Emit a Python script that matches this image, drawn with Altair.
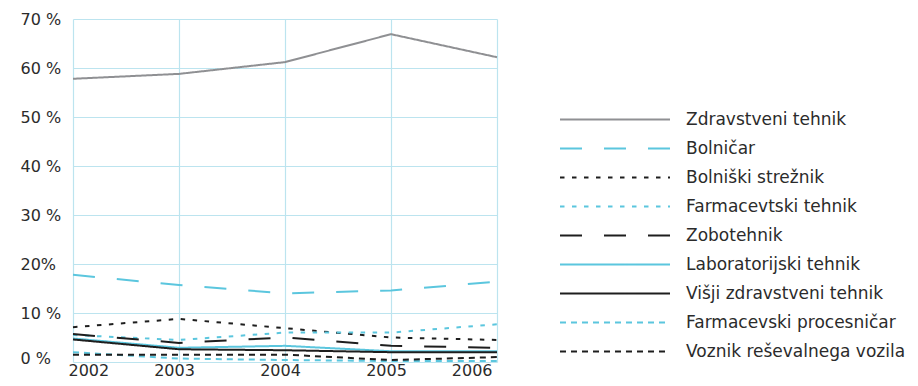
import altair as alt
import pandas as pd

years = [2002, 2003, 2004, 2005, 2006]

series = [
    "Zdravstveni tehnik",
    "Bolničar",
    "Bolniški strežnik",
    "Farmacevtski tehnik",
    "Zobotehnik",
    "Laboratorijski tehnik",
    "Višji zdravstveni tehnik",
    "Farmacevski procesničar",
    "Voznik reševalnega vozila",
]

zdravstveni_tehnik = [57.8, 58.8, 61.2, 66.9, 62.2]
bolnicar = [17.8, 15.7, 14.0, 14.6, 16.4]
bolniski_streznik = [7.1, 8.8, 6.9, 5.0, 4.5]
farmacevtski_tehnik = [5.5, 4.5, 6.0, 6.0, 7.7]
zobotehnik = [5.7, 3.9, 5.0, 3.3, 2.9]
laboratorijski_tehnik = [4.8, 2.9, 3.3, 2.2, 2.2]
visji_zdravstveni_tehnik = [4.6, 2.6, 2.4, 2.0, 2.0]
farmacevski_procesnicar = [2.0, 0.7, 0.4, 0.2, 0.2]
voznik = [1.5, 1.5, 1.5, 0.4, 1.0]

all_values = [
    zdravstveni_tehnik, bolnicar, bolniski_streznik, farmacevtski_tehnik,
    zobotehnik, laboratorijski_tehnik, visji_zdravstveni_tehnik,
    farmacevski_procesnicar, voznik,
]

y_ticks = [0, 10, 20, 30, 40, 50, 60, 70]

GRAY = "#8f9093"
BLUE = "#5bc6de"
BLACK = "#1e1e1e"
colors = [GRAY, BLUE, BLACK, BLUE, BLACK, BLUE, BLACK, BLUE, BLACK]
dashes = [[1, 0], [22, 22], [4.5, 7.5], [4.5, 7.5], [22, 22], [1, 0], [1, 0], [6, 5], [6, 5]]
widths = [2, 2, 4.5, 4.5, 2.5, 2, 3, 2, 2.5]

FONT = "DejaVu Sans"
TEXT = "#2b2b2b"
GRID = "#bce4ef"

rows = []
for name, vals in zip(series, all_values):
    for yr, v in zip(years, vals):
        rows.append({"year": yr, "series": name, "value": v})
df = pd.DataFrame(rows)

legend = alt.Legend(
    title=None,
    orient="none",
    legendX=487,
    legendY=86,
    symbolType="M-5,0H5",
    symbolSize=484,
    symbolOffset=43,
    clipHeight=29,
    rowPadding=0,
    labelFontSize=17,
    labelFont=FONT,
    labelColor=TEXT,
    labelOffset=59,
    labelLimit=400,
    padding=0,
)

chart = alt.Chart(df).mark_line().encode(
    x=alt.X(
        "year:Q",
        scale=alt.Scale(domain=[2002, 2006], nice=False, zero=False),
        axis=alt.Axis(values=years, format="d", title=None, labelFontSize=16,
                      labelFont=FONT, labelColor=TEXT, labelOffset=-5,
                      labelPadding=0, ticks=False, domain=False,
                      gridColor=GRID, gridWidth=1.2),
    ),
    y=alt.Y(
        "value:Q",
        scale=alt.Scale(domain=[0, 70], nice=False),
        axis=alt.Axis(values=y_ticks, title=None, labelFontSize=16,
                      labelFont=FONT, labelColor=TEXT,
                      labelAlign="left", labelPadding=53, ticks=False, domain=False,
                      labelOffset={"condition": {"test": "datum.value == 0", "value": -4}, "value": 0},
                      labelExpr="datum.value == 20 ? '20%' : datum.value + ' %'",
                      gridColor=GRID, gridWidth=1.2),
    ),
    color=alt.Color("series:N", scale=alt.Scale(domain=series, range=colors), legend=legend),
    strokeDash=alt.StrokeDash("series:N", scale=alt.Scale(domain=series, range=dashes), legend=legend),
    strokeWidth=alt.StrokeWidth("series:N", scale=alt.Scale(domain=series, range=widths), legend=legend),
).properties(
    width=424,
    height=343,
    autosize=alt.AutoSizeParams(type="none"),
    padding={"left": 65, "top": 11, "right": 413, "bottom": 16},
).configure_view(stroke=None)

chart.save("out.html", embed_options={"renderer": "svg", "actions": False})
